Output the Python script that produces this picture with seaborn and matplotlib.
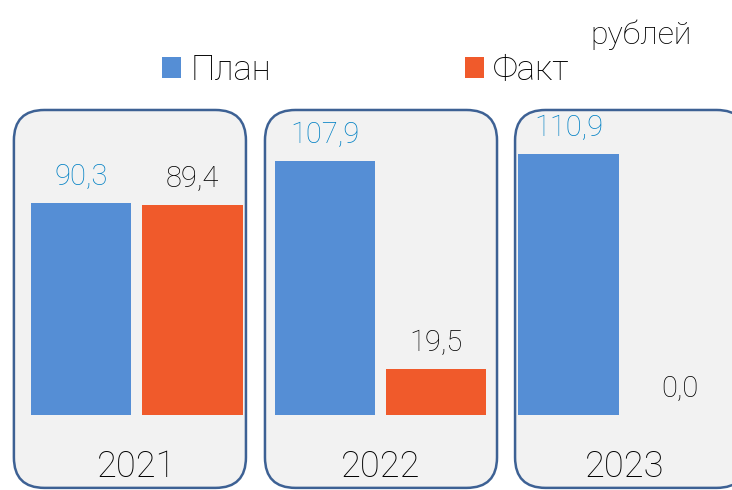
import numpy as np
import pandas as pd
import seaborn as sns
import matplotlib as mpl
import matplotlib.pyplot as plt
from matplotlib.patches import FancyBboxPatch

sns.set_theme(style="white")
plt.rcParams["font.family"] = ["Roboto", "Liberation Sans", "DejaVu Sans"]
plt.rcParams["font.weight"] = "light"

years = ["2021", "2022", "2023"]
plan = [90.3, 107.9, 110.9]
fakt = [89.4, 19.5, 0.0]
series = ["План", "Факт"]
unit_label = "рублей"

bar_colors = ["#558ED5", "#F05A2B"]
label_colors = ["#0080C4", "#000000"]

df = pd.DataFrame(
    {
        "year": years * 2,
        "value": plan + fakt,
        "series": [series[0]] * len(years) + [series[1]] * len(years),
    }
)

fig = plt.figure(figsize=(7.32, 4.90), dpi=100)
ax = fig.add_axes([0, 0, 1, 1])

ax = sns.barplot(
    data=df,
    x="year",
    y="value",
    hue="series",
    hue_order=series,
    palette=bar_colors,
    width=0.915,
    gap=0.1,
    saturation=1,
    linewidth=0,
    ax=ax,
    zorder=2,
)

# axis ranges chosen so that the layout lines up with the picture
ax.set_xlim(-0.561, 2.442)
ax.set_ylim(-31.9, 176.6)
ax.set_axis_off()

# rounded panels behind each year
px_x = 243.75
px_y = 2.35
box_lefts = [-0.504, 0.526, 1.552]
for left in box_lefts:
    box = FancyBboxPatch(
        (left, -31.0),
        0.952,
        160.8,
        boxstyle="round,pad=0,rounding_size=0.125",
        mutation_aspect=px_x / px_y,
        facecolor="#F2F2F2",
        edgecolor="#3D6194",
        linewidth=1.8,
        zorder=0,
        clip_on=False,
    )
    ax.add_patch(box)

# value labels
for cont, col in zip(ax.containers, label_colors):
    for bar in cont:
        h = bar.get_height()
        ax.annotate(
            f"{h:.1f}".replace(".", ","),
            (bar.get_x() + bar.get_width() / 2, h),
            xytext=(0, 13),
            textcoords="offset points",
            ha="center",
            va="baseline",
            fontsize=21,
            color=col,
            zorder=3,
        )

# year labels inside the panels
for i, y in enumerate(years):
    ax.text(i, -26.4, y, ha="center", va="baseline", fontsize=26, color="#000000")

sns.move_legend(
    ax,
    "center",
    bbox_to_anchor=(0.5, 0.857),
    bbox_transform=fig.transFigure,
    ncol=2,
    frameon=False,
    title=None,
    fontsize=25,
    handlelength=0.55,
    handleheight=0.55,
    handletextpad=0.25,
    columnspacing=5.6,
)
for t in ax.get_legend().get_texts():
    t.set_color("#000000")

fig.text(0.945, 0.93, unit_label, ha="right", va="center", fontsize=23, color="#000000")

fig.savefig("out.png", dpi=100, facecolor="white")
